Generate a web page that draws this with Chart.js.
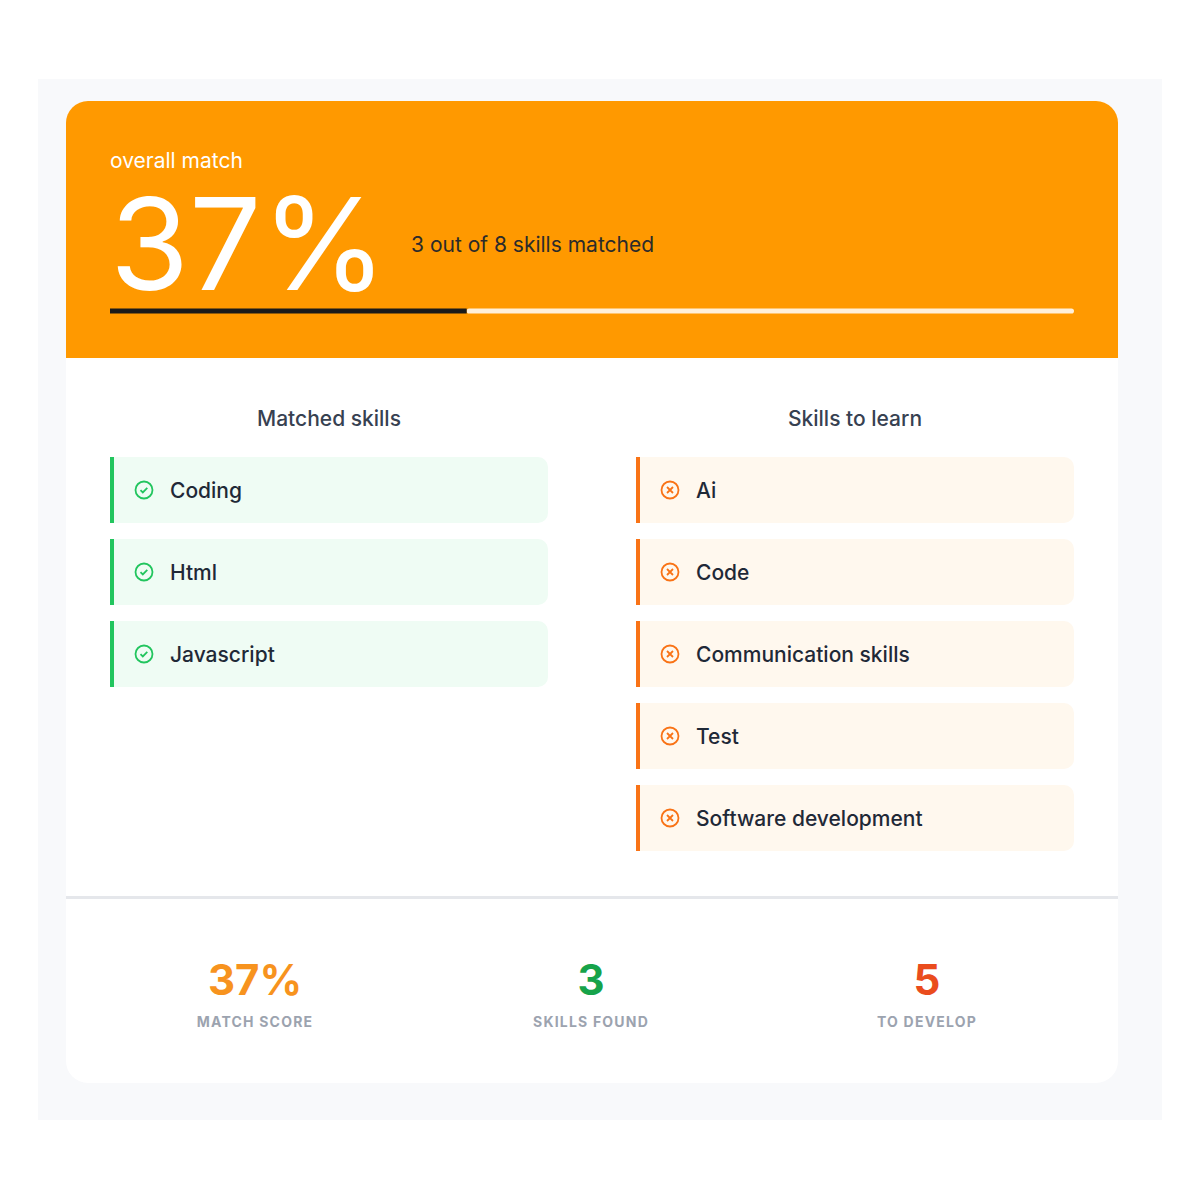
<!DOCTYPE html>
<html>
<head>
<meta charset="utf-8">
<script src="https://cdn.jsdelivr.net/npm/chart.js@4"></script>
<style>
  body { margin: 0; width: 1200px; height: 1200px; background: #fff; font-family: Inter, "Noto Sans", sans-serif; }
  .outer { position: absolute; left: 38px; top: 79px; width: 1124px; height: 1041px; background: #f8f9fb; }
  .card { position: absolute; left: 66px; top: 101px; width: 1052px; height: 982px; background: #fff; border-radius: 22px; overflow: hidden; }
  .head { position: absolute; left: 0; top: 0; width: 1052px; height: 257px; background: #ff9900; }
  .lbl { position: absolute; left: 44px; top: 49px; font-size: 21px; color: #fff; line-height: 1; }
  .big { position: absolute; left: 44px; top: 97px; font-size: 128px; color: #fff; line-height: 0.72; }
  .sub { position: absolute; left: 345px; top: 131px; font-size: 21px; color: #2b2b2b; }
  .bar { position: absolute; left: 44px; top: 207px; width: 964px; height: 6px; }
  .colh { position: absolute; top: 305px; width: 438px; text-align: center; font-size: 21px; color: #374151; font-weight: 500; }
  .item { position: absolute; width: 434px; height: 66px; border-radius: 0 10px 10px 0; font-size: 21px; font-weight: 500; color: #1f2937; display: flex; align-items: center; }
  .item svg { margin-left: 20px; margin-right: 16px; }
  .ok { background: #effcf4; border-left: 4px solid #22c55e; }
  .no { background: #fff8ee; border-left: 4px solid #f97316; }
  .div { position: absolute; left: 0; top: 795px; width: 1052px; height: 3px; background: #e5e7eb; }
  .stat { position: absolute; top: 858px; width: 300px; text-align: center; }
  .stat b { display: block; font-size: 42px; font-weight: 700; line-height: 1; }
  .stat span { display: block; margin-top: 12px; font-size: 14px; font-weight: 700; color: #9ca3af; letter-spacing: 1.2px; }
</style>
</head>
<body>
<div class="outer"></div>
<div class="card" id="card">
  <div class="head">
    <div class="lbl">overall match</div>
    <div class="big" id="big"></div>
    <div class="sub" id="sub"></div>
    <div class="bar"><canvas id="progress" width="964" height="6"></canvas></div>
  </div>
  <div class="colh" style="left:44px">Matched skills</div>
  <div class="colh" style="left:570px">Skills to learn</div>
  <div class="div"></div>
</div>
<script>
const matchedSkills = ["Coding", "Html", "Javascript"];
const skillsToLearn = ["Ai", "Code", "Communication skills", "Test", "Software development"];
const totalSkills = matchedSkills.length + skillsToLearn.length;
const matchPercent = 37;
const statLabels = ["MATCH SCORE", "SKILLS FOUND", "TO DEVELOP"];
const statValues = [matchPercent + "%", matchedSkills.length, skillsToLearn.length];
const statColors = ["#f7931e", "#16a34a", "#ea4c1d"];

document.getElementById("big").textContent = matchPercent + "%";
document.getElementById("sub").textContent =
  matchedSkills.length + " out of " + totalSkills + " skills matched";

const card = document.getElementById("card");
const okIcon = '<svg width="20" height="20" viewBox="0 0 20 20"><circle cx="10" cy="10" r="8.5" fill="none" stroke="#22c55e" stroke-width="1.8"/><path d="M6.5 10.2l2.3 2.3 4.5-4.6" fill="none" stroke="#22c55e" stroke-width="1.8"/></svg>';
const noIcon = '<svg width="20" height="20" viewBox="0 0 20 20"><circle cx="10" cy="10" r="8.5" fill="none" stroke="#f97316" stroke-width="1.8"/><path d="M7 7l6 6M13 7l-6 6" fill="none" stroke="#f97316" stroke-width="1.8"/></svg>';

function addItems(list, left, cls, icon) {
  list.forEach((name, i) => {
    const el = document.createElement("div");
    el.className = "item " + cls;
    el.style.left = left + "px";
    el.style.top = (356 + i * 82) + "px";
    el.innerHTML = icon + "<span>" + name + "</span>";
    card.appendChild(el);
  });
}
addItems(matchedSkills, 44, "ok", okIcon);
addItems(skillsToLearn, 570, "no", noIcon);

statLabels.forEach((label, i) => {
  const el = document.createElement("div");
  el.className = "stat";
  el.style.left = (39 + i * 336) + "px";
  el.innerHTML = '<b style="color:' + statColors[i] + '">' + statValues[i] + "</b><span>" + label + "</span>";
  card.appendChild(el);
});

// progress bar drawn by Chart.js
new Chart(document.getElementById("progress").getContext("2d"), {
  type: "bar",
  data: {
    labels: ["match"],
    datasets: [
      { data: [matchPercent], backgroundColor: "#1a1a1a", barPercentage: 0.85, categoryPercentage: 1, borderRadius: 3, borderSkipped: false },
      { data: [100 - matchPercent], backgroundColor: "rgba(255,255,255,0.85)", barPercentage: 0.85, categoryPercentage: 1, borderRadius: 3, borderSkipped: false }
    ]
  },
  options: {
    indexAxis: "y",
    responsive: false,
    animation: false,
    layout: { padding: 0 },
    plugins: { legend: { display: false }, tooltip: { enabled: false } },
    scales: {
      x: { stacked: true, min: 0, max: 100, display: false },
      y: { stacked: true, display: false }
    }
  }
});
</script>
</body>
</html>
